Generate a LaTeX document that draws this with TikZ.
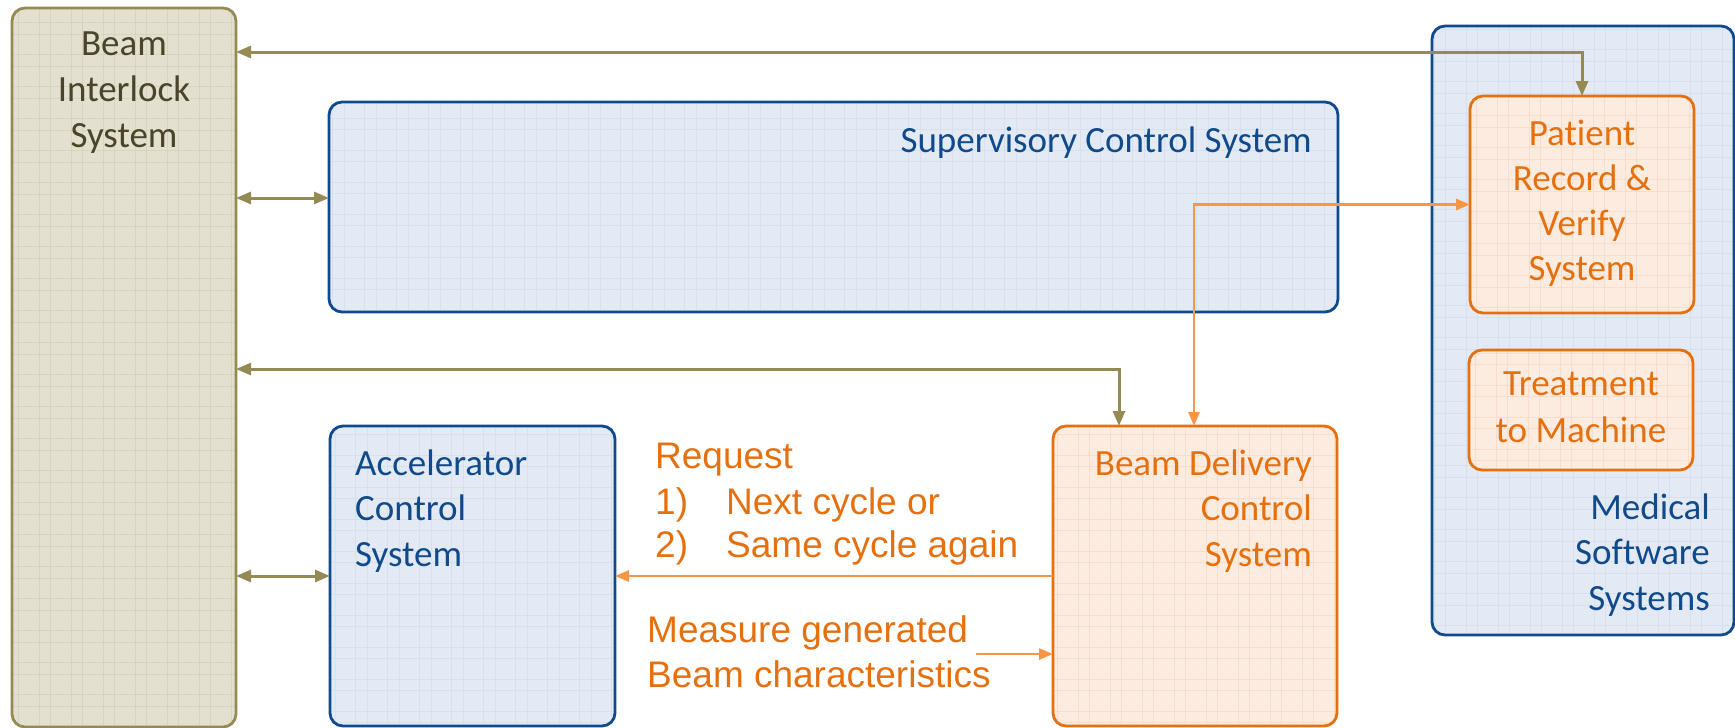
\documentclass[tikz,border=0pt]{standalone}
\usepackage{fontspec}
\setmainfont{Carlito}[Ligatures=NoCommon]
\newfontfamily\arialfont{Liberation Sans}
\usetikzlibrary{arrows.meta,calc}

\definecolor{tanline}{HTML}{948A54}
\definecolor{tanfill}{HTML}{E4E0D0}
\definecolor{tangrid}{HTML}{D8D3BE}
\definecolor{tantext}{HTML}{4A452A}
\definecolor{blueline}{HTML}{0E4A8C}
\definecolor{bluefill}{HTML}{E3EAF4}
\definecolor{bluegrid}{HTML}{D7E0EE}
\definecolor{bluetext}{HTML}{114A8A}
\definecolor{orgline}{HTML}{E5700F}
\definecolor{orgfill}{HTML}{FCEBDF}
\definecolor{orggrid}{HTML}{F6DDCC}
\definecolor{orgarrow}{HTML}{F79646}

\tikzset{
  x=1pt, y=-1pt,
  % faint paper grid, in coordinates relative to the box centre
  gridfill/.style={path picture={
    \foreach \g in {-576,-544,...,576}{
      \draw[#1, line width=0.8pt]
        (\g+11,-400) -- (\g+11,400) (\g+22.7,-400) -- (\g+22.7,400)
        (-600,\g+7.3) -- (600,\g+7.3) (-600,\g+18.5) -- (600,\g+18.5);
    }}},
  sysbox/.style={rounded corners=13pt, line width=2.8pt, inner sep=0pt,
    outer sep=0pt, anchor=north west},
  tanbox/.style={sysbox, draw=tanline, fill=tanfill, gridfill=tangrid},
  bluebox/.style={sysbox, draw=blueline, fill=bluefill, gridfill=bluegrid},
  orgbox/.style={sysbox, draw=orgline, fill=orgfill, gridfill=orggrid},
  lbl/.style={font=\fontsize{37}{44}\selectfont, inner sep=0pt, anchor=base},
  note/.style={font=\arialfont\fontsize{37}{44}\selectfont, text=orgline,
    inner sep=0pt, anchor=base west},
  tanlink/.style={draw=tanline, line width=3pt,
    {Triangle[length=15pt,width=12pt]}-{Triangle[length=15pt,width=12pt]}},
  orglink/.style={draw=orgarrow, line width=2.8pt},
}

\begin{document}
\begin{tikzpicture}
\useasboundingbox (0,0) rectangle (1735,728);

% system boxes
\node[tanbox, minimum width=224pt, minimum height=719pt] (bis) at (12,8) {};
\node[bluebox, minimum width=1009pt, minimum height=210pt] (scs) at (329,102) {};
\node[bluebox, minimum width=302pt, minimum height=609pt] (mss) at (1432,26) {};
\node[orgbox, minimum width=224pt, minimum height=217pt] (prv) at (1470,96) {};
\node[orgbox, minimum width=224pt, minimum height=120pt] (ttm) at (1469,350) {};
\node[bluebox, minimum width=285pt, minimum height=300pt] (acs) at (330,426) {};
\node[orgbox, minimum width=284pt, minimum height=300pt] (bdcs) at (1053,426) {};

% box labels
\foreach \t [count=\i from 0] in {Beam,Interlock,System}
  \node[lbl, text=tantext] (bis-l\i) at (124,55+46*\i) {\t};
\node[lbl, text=bluetext, anchor=base east] (scs-l) at (1312,152) {Supervisory Control System};
\foreach \t [count=\i from 0] in {Accelerator,Control,System}
  \node[lbl, text=bluetext, anchor=base west] (acs-l\i) at (355,475+45.5*\i) {\t};
\foreach \t [count=\i from 0] in {Beam Delivery,Control,System}
  \node[lbl, text=orgline, anchor=base east] (bdcs-l\i) at (1312,475+45.5*\i) {\t};
\foreach \t [count=\i from 0] in {Patient,Record \&,Verify,System}
  \node[lbl, text=orgline] (prv-l\i) at (1582,145+45*\i) {\t};
\foreach \t [count=\i from 0] in {Treatment,to Machine}
  \node[lbl, text=orgline] (ttm-l\i) at (1581,395+47*\i) {\t};
\foreach \t [count=\i from 0] in {Medical,Software,Systems}
  \node[lbl, text=bluetext, anchor=base east] (mss-l\i) at (1710,519+45.5*\i) {\t};

% request / measurement notes
\node[note] (req) at (655,468) {Request};
\node[note] (req-n1) at (655,514) {1)};
\node[note] (req-t1) at (726,514) {Next cycle or};
\node[note] (req-n2) at (655,557) {2)};
\node[note] (req-t2) at (726,557) {Same cycle again};
\node[note] (meas1) at (647,642) {Measure generated};
\node[note] (meas2) at (647,687) {Beam characteristics};

% interlock connections
\coordinate (topbus) at (0,52);
\coordinate (midbus) at (0,369);
\coordinate (bdcs-tap) at (1119,0);
\draw[tanlink] (bis.east |- topbus) -- (prv.north |- topbus) -- (prv.north);
\draw[tanlink] ([yshift=9pt]scs.west -| bis.east) -- ([yshift=9pt]scs.west);
\draw[tanlink] (bis.east |- midbus) -- (bdcs-tap |- midbus) -- (bdcs-tap |- bdcs.north);
\draw[tanlink] (acs.west -| bis.east) -- (acs.west);

% record & verify <-> beam delivery
\coordinate (rv-tap) at (1194,0);
\draw[orglink, {Triangle[length=14pt,width=11pt]}-{Triangle[length=14pt,width=11pt]}]
  (prv.west) -- (rv-tap |- prv.west) -- (rv-tap |- bdcs.north);

% beam delivery -> accelerator request, measurement -> beam delivery
\draw[orglink, -{Triangle[length=14pt,width=11pt]}] (bdcs.west) -- (acs.east);
\coordinate (meas-start) at (976,654);
\draw[orglink, -{Triangle[length=14pt,width=11pt]}] (meas-start) -- (meas-start -| bdcs.west);
\end{tikzpicture}
\end{document}
